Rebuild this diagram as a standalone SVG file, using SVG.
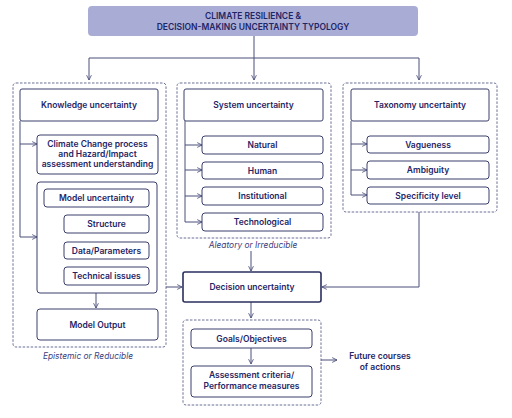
<svg xmlns="http://www.w3.org/2000/svg" width="512" height="418" viewBox="0 0 512 418">
<defs>
<marker id="ah" viewBox="0 0 10 10" refX="9" refY="5" markerWidth="6" markerHeight="6" markerUnits="userSpaceOnUse" orient="auto">
<path d="M1,1 L9,5 L1,9" fill="none" stroke="#4a4f7a" stroke-width="1.4"/>
</marker>
<style>
.bx{fill:#fff;stroke:#3a3f6e;stroke-width:1}
.bxk{fill:#fff;stroke:#2a2f5e;stroke-width:1.6}
.dash{fill:none;stroke:#6a6f95;stroke-width:1;stroke-dasharray:2.5 1.5}
.ln{fill:none;stroke:#4a4f7a;stroke-width:1}
.t{font-family:Inter,"Liberation Sans",sans-serif;font-size:8.5px;font-weight:600;fill:#1f2566;text-anchor:middle}
.i{font-family:Inter,"Liberation Sans",sans-serif;font-size:8.4px;font-style:italic;fill:#3a4080;text-anchor:middle}
</style>
</defs>
<rect width="512" height="418" fill="#fff"/>

<g id="containers">
<rect class="dash" x="13" y="83" width="153" height="264" rx="3"/>
<rect class="dash" x="177" y="83" width="154" height="155" rx="3"/>
<rect class="dash" x="343" y="83" width="154" height="129" rx="3"/>
<rect class="dash" x="183" y="320" width="138" height="85" rx="3"/>
</g>

<g id="connectors">
<path class="ln" d="M254,36 V58"/>
<path class="ln" d="M89,58 H419"/>
<path class="ln" d="M89,58 V80" marker-end="url(#ah)"/>
<path class="ln" d="M254,58 V80" marker-end="url(#ah)"/>
<path class="ln" d="M419,58 V80" marker-end="url(#ah)"/>
<path class="ln" d="M20,121 V237"/>
<path class="ln" d="M20,144 H37" marker-end="url(#ah)"/>
<path class="ln" d="M20,237 H37" marker-end="url(#ah)"/>
<path class="ln" d="M44,207 V276"/>
<path class="ln" d="M44,223 H64" marker-end="url(#ah)"/>
<path class="ln" d="M44,250 H64" marker-end="url(#ah)"/>
<path class="ln" d="M44,276 H64" marker-end="url(#ah)"/>
<path class="ln" d="M96,293 V308" marker-end="url(#ah)"/>
<path class="ln" d="M185,121 V222"/>
<path class="ln" d="M185,145 H202" marker-end="url(#ah)"/>
<path class="ln" d="M185,170 H202" marker-end="url(#ah)"/>
<path class="ln" d="M185,196 H202" marker-end="url(#ah)"/>
<path class="ln" d="M185,222 H202" marker-end="url(#ah)"/>
<path class="ln" d="M351,121 V195"/>
<path class="ln" d="M351,144 H367" marker-end="url(#ah)"/>
<path class="ln" d="M351,170 H367" marker-end="url(#ah)"/>
<path class="ln" d="M351,195 H367" marker-end="url(#ah)"/>
<path class="ln" d="M251,251 V271" marker-end="url(#ah)"/>
<path class="ln" d="M166,287 H182" marker-end="url(#ah)"/>
<path class="ln" d="M419,212 V287 H322" marker-end="url(#ah)"/>
<path class="ln" d="M251,302 V318" marker-end="url(#ah)"/>
<path class="ln" d="M251,348 V364" marker-end="url(#ah)"/>
<path class="ln" d="M321,360 H337" marker-end="url(#ah)"/>
</g>

<g id="title">
<rect x="88" y="6" width="330" height="30" rx="4" fill="#a9acd5"/>
<text class="t" x="253" y="19">CLIMATE RESILIENCE &amp;</text>
<text class="t" x="253" y="30">DECISION-MAKING UNCERTAINTY TYPOLOGY</text>
</g>

<g id="knowledge">
<rect class="bx" x="20" y="89" width="138" height="32" rx="2"/>
<text class="t" x="89" y="108">Knowledge uncertainty</text>
</g>
<g id="climate-process">
<rect class="bx" x="37" y="135" width="121" height="39" rx="3"/>
<text class="t" x="97.5" y="147">Climate Change process</text>
<text class="t" x="97.5" y="157">and Hazard/Impact</text>
<text class="t" x="97.5" y="167">assessment understanding</text>
</g>
<g id="model-group">
<rect class="bx" x="37" y="182" width="120" height="111" rx="3"/>
</g>
<g id="model-uncertainty">
<rect class="bx" x="44" y="189" width="105" height="18" rx="3"/>
<text class="t" x="96.5" y="201">Model uncertainty</text>
</g>
<g id="structure">
<rect class="bx" x="64" y="215" width="85" height="18" rx="3"/>
<text class="t" x="106.5" y="227">Structure</text>
</g>
<g id="data-parameters">
<rect class="bx" x="64" y="242" width="85" height="17" rx="3"/>
<text class="t" x="106.5" y="253.5">Data/Parameters</text>
</g>
<g id="technical">
<rect class="bx" x="64" y="267" width="85" height="18" rx="3"/>
<text class="t" x="106.5" y="279">Technical issues</text>
</g>
<g id="model-output">
<rect class="bx" x="37" y="309" width="121" height="31" rx="3"/>
<text class="t" x="97.5" y="327.5">Model Output</text>
</g>
<text class="i" x="88" y="359">Epistemic or Reducible</text>

<g id="system">
<rect class="bx" x="184" y="89" width="139" height="32" rx="2"/>
<text class="t" x="253.5" y="108">System uncertainty</text>
</g>
<g id="natural">
<rect class="bx" x="202" y="136" width="121" height="18" rx="3"/>
<text class="t" x="262.5" y="148">Natural</text>
</g>
<g id="human">
<rect class="bx" x="202" y="162" width="121" height="17" rx="3"/>
<text class="t" x="262.5" y="173.5">Human</text>
</g>
<g id="institutional">
<rect class="bx" x="202" y="187" width="121" height="18" rx="3"/>
<text class="t" x="262.5" y="199">Institutional</text>
</g>
<g id="technological">
<rect class="bx" x="202" y="213" width="121" height="18" rx="3"/>
<text class="t" x="262.5" y="225">Technological</text>
</g>
<text class="i" x="253" y="248">Aleatory or Irreducible</text>

<g id="taxonomy">
<rect class="bx" x="351" y="89" width="138" height="32" rx="2"/>
<text class="t" x="420" y="108">Taxonomy uncertainty</text>
</g>
<g id="vagueness">
<rect class="bx" x="367" y="136" width="122" height="17" rx="3"/>
<text class="t" x="428" y="147.5">Vagueness</text>
</g>
<g id="ambiguity">
<rect class="bx" x="367" y="161" width="122" height="18" rx="3"/>
<text class="t" x="428" y="173">Ambiguity</text>
</g>
<g id="specificity">
<rect class="bx" x="367" y="187" width="122" height="17" rx="3"/>
<text class="t" x="428" y="198.5">Specificity level</text>
</g>

<g id="decision">
<rect class="bxk" x="183" y="272" width="138" height="30" rx="2"/>
<text class="t" x="252" y="290">Decision uncertainty</text>
</g>
<g id="goals">
<rect class="bx" x="191" y="329" width="121" height="19" rx="3"/>
<text class="t" x="251.5" y="341.5">Goals/Objectives</text>
</g>
<g id="assessment">
<rect class="bx" x="191" y="366" width="121" height="31" rx="3"/>
<text class="t" x="251.5" y="378">Assessment criteria/</text>
<text class="t" x="251.5" y="388.5">Performance measures</text>
</g>
<g id="future">
<text class="t" x="380" y="359">Future courses</text>
<text class="t" x="380" y="369.5">of actions</text>
</g>
</svg>
